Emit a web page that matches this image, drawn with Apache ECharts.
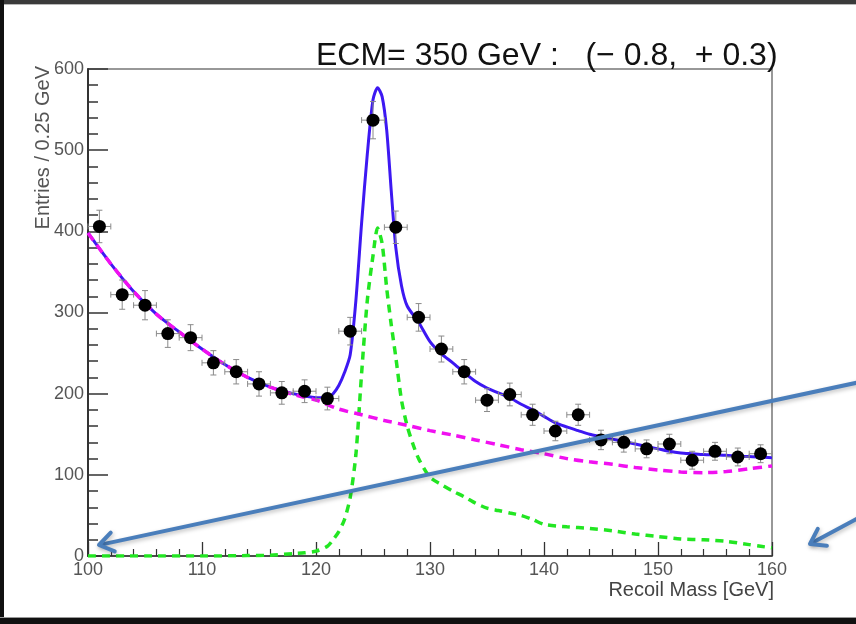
<!DOCTYPE html>
<html>
<head>
<meta charset="utf-8">
<script src="https://cdn.jsdelivr.net/npm/echarts@6/dist/echarts.min.js"></script>
<style>
html,body{margin:0;padding:0;background:#fff;}
#chart{width:856px;height:624px;}
</style>
</head>
<body>
<div id="chart"></div>
<script>
// ---- data ----
const titleText = 'ECM= 350 GeV :   (\u2212 0.8,  + 0.3)';
const xAxisTitle = 'Recoil Mass [GeV]';
const yAxisTitle = 'Entries / 0.25 GeV';

// measured histogram points
const binCenters = [101,103,105,107,109,111,113,115,117,119,121,123,125,127,129,131,133,135,137,139,141,143,145,147,149,151,153,155,157,159];
const entries    = [406,322,309,274,269,238,227,212,201,203,194,277,537,405,294,255,227,192,199,174,154,174,143,140,132,138,118,129,122,126];
const entryErrors= [20,18,18,17,16,15,15,15,14,14,14,17,23,20,17,16,15,14,14,13,12,13,12,12,11,12,11,11,11,11];
const binHalfWidth = 1;

// total fit (blue)
const fitMass  = [100,102,104,106,108,110,112,114,116,118,119,120,121,121.5,122,122.5,123,123.5,124,124.5,125,125.4,125.8,126.2,126.6,127,127.5,128,129,130,131,132,133,134,135,136,137,138,139,140,141,142,143,144,145,146,147,148,149,150,151,152,153,154,155,156,157,158,159,160];
const totalFit = [398,360,326,298,276,255,236,220,208,200,197,195,195,200,210,226,248,315,410,495,562,577,566,525,450,380,333,308,288,264,249,238,226,215,207,201,195,187,180,172,164,159,154.5,150,147,144,141,138,135,132,129,127,126,125,124.5,124,123,122.5,122,121];

// background component (magenta dashed)
const bkgMass = [100,102,104,106,108,110,112,114,116,118,120,122,124,126,128,130,132,134,136,138,140,142,144,146,148,150,152,154,156,158,160];
const bkgFit  = [398,360,326,298,276,255,236,220,208,199,192,181,174,167,161,154.5,149,143,137,131,126,120,116,113,109,106,103.5,102.7,104,107.5,111];

// signal component (green dashed)
const sigMass = [100,105,110,114,116,118,119,120,121,121.5,122,122.5,123,123.5,124,124.5,125,125.4,125.8,126.2,126.6,127,127.5,128,128.5,129,130,131,132,133,134,135,136,137,138,139,140,142,144,146,148,150,152,154,156,158,159,160];
const sigFit  = [0,0,0,0.5,1,3,4,6,12,20,30,45,72,125,225,315,370,404,385,330,285,245,192,160,138,120,97,88,80,73,65,59,56,53,50,45,39,36,34,31,27,24,21,20,18,14,12,10];

const xMin = 100, xMax = 160, xStep = 10;
const yMin = 0, yMax = 600, yStep = 100;

// ---- build ----
const zip = (a, b) => a.map((v, i) => [v, b[i]]);
const pointData = binCenters.map((x, i) => [x, entries[i], entryErrors[i]]);

const chart = echarts.init(document.getElementById('chart'), null, {renderer: 'canvas'});

const arrowColor = '#4a7ebb';
function arrow(tip, tail) {
  const dx = tail[0] - tip[0], dy = tail[1] - tip[1];
  const L = Math.hypot(dx, dy), ux = dx / L, uy = dy / L;
  const wing = 17, ang = 0.6;
  const w1 = [tip[0] + wing * (ux * Math.cos(ang) - uy * Math.sin(ang)), tip[1] + wing * (ux * Math.sin(ang) + uy * Math.cos(ang))];
  const w2 = [tip[0] + wing * (ux * Math.cos(-ang) - uy * Math.sin(-ang)), tip[1] + wing * (ux * Math.sin(-ang) + uy * Math.cos(-ang))];
  const style = {stroke: arrowColor, lineWidth: 4, lineCap: 'round', lineJoin: 'round', fill: null,
                 shadowBlur: 4, shadowColor: 'rgba(0,0,0,0.25)', shadowOffsetX: 1, shadowOffsetY: 2};
  return [
    {type: 'line', z: 100, shape: {x1: tail[0], y1: tail[1], x2: tip[0] + ux * 2, y2: tip[1] + uy * 2}, style: style},
    {type: 'polyline', z: 100, shape: {points: [w1, tip, w2]}, style: style}
  ];
}

const option = {
  animation: false,
  backgroundColor: '#ffffff',
  title: {
    text: titleText,
    left: 311, top: 35,
    textStyle: {fontFamily: 'Liberation Sans', fontSize: 32, fontWeight: 'normal', color: '#111'}
  },
  grid: {left: 88, right: 84, top: 69, bottom: 68, show: true, borderColor: '#777', borderWidth: 1.5, backgroundColor: 'transparent'},
  xAxis: {
    type: 'value', min: xMin, max: xMax, interval: xStep,
    name: xAxisTitle, nameLocation: 'end', nameGap: 2,
    nameTextStyle: {fontFamily: 'Liberation Sans', fontSize: 20, color: '#444', align: 'right', verticalAlign: 'top', padding: [24, 0, 0, 0]},
    axisLine: {show: true, onZero: false, lineStyle: {color: '#333', width: 1.5}},
    axisTick: {show: true, inside: true, length: 14, lineStyle: {color: '#333', width: 1.3}},
    minorTick: {show: true, splitNumber: 5, length: 7, lineStyle: {color: '#333', width: 1.2}},
    axisLabel: {margin: 5, fontFamily: 'Liberation Sans', fontSize: 18, color: '#555'},
    splitLine: {show: false}
  },
  yAxis: {
    type: 'value', min: yMin, max: yMax, interval: yStep,
    axisLine: {show: true, onZero: false, lineStyle: {color: '#333', width: 2}},
    axisTick: {show: true, inside: true, length: 20, lineStyle: {color: '#333', width: 1.5}},
    minorTick: {show: true, splitNumber: 5, length: 10, lineStyle: {color: '#333', width: 1.5}},
    axisLabel: {margin: 4, fontFamily: 'Liberation Sans', fontSize: 18, color: '#555'},
    splitLine: {show: false}
  },
  graphic: [
    {type: 'text', z: 50, x: 43, y: 66, rotation: Math.PI / 2,
     style: {text: yAxisTitle, fontFamily: 'Liberation Sans', fontSize: 20, fill: '#555', align: 'right', verticalAlign: 'middle'}},
    {type: 'rect', z: 90, shape: {x: 0, y: 0, width: 856, height: 4}, style: {fill: '#3a3a3a'}},
    {type: 'rect', z: 90, shape: {x: 0, y: 4, width: 856, height: 1}, style: {fill: '#b8b8b8'}},
    {type: 'rect', z: 90, shape: {x: 0, y: 0, width: 4, height: 624}, style: {fill: '#111'}},
    {type: 'rect', z: 90, shape: {x: 0, y: 617, width: 856, height: 1}, style: {fill: '#999'}},
    {type: 'rect', z: 90, shape: {x: 0, y: 618, width: 856, height: 6}, style: {fill: '#111'}}
  ].concat(arrow([99, 545], [860, 382])).concat(arrow([810, 544], [860, 517])),
  series: [
    {
      name: 'signal', type: 'line', data: zip(sigMass, sigFit), showSymbol: false, symbol: 'none',
      smooth: 0.25, z: 2,
      lineStyle: {color: '#22e622', width: 3.5, type: [8, 6]}
    },
    {
      name: 'total', type: 'line', data: zip(fitMass, totalFit), showSymbol: false, symbol: 'none',
      smooth: 0.25, z: 3,
      lineStyle: {color: '#3d18f2', width: 3}
    },
    {
      name: 'background', type: 'line', data: zip(bkgMass, bkgFit), showSymbol: false, symbol: 'none',
      smooth: 0.3, z: 4,
      lineStyle: {color: '#f010f0', width: 3.5, type: [9, 6]}
    },
    {
      name: 'errors', type: 'custom', z: 5, data: pointData,
      renderItem: function (params, api) {
        const x = api.value(0), y = api.value(1), e = api.value(2);
        const top = api.coord([x, y + e]), bot = api.coord([x, y - e]);
        const lft = api.coord([x - binHalfWidth, y]), rgt = api.coord([x + binHalfWidth, y]);
        const cap = 3;
        const st = {stroke: '#8a8a8a', lineWidth: 1};
        return {type: 'group', children: [
          {type: 'line', shape: {x1: top[0], y1: top[1], x2: bot[0], y2: bot[1]}, style: st},
          {type: 'line', shape: {x1: lft[0], y1: lft[1], x2: rgt[0], y2: rgt[1]}, style: st},
          {type: 'line', shape: {x1: top[0] - cap, y1: top[1], x2: top[0] + cap, y2: top[1]}, style: st},
          {type: 'line', shape: {x1: bot[0] - cap, y1: bot[1], x2: bot[0] + cap, y2: bot[1]}, style: st},
          {type: 'line', shape: {x1: lft[0], y1: lft[1] - cap, x2: lft[0], y2: lft[1] + cap}, style: st},
          {type: 'line', shape: {x1: rgt[0], y1: rgt[1] - cap, x2: rgt[0], y2: rgt[1] + cap}, style: st}
        ]};
      }
    },
    {
      name: 'data', type: 'scatter', z: 6, data: pointData.map(p => [p[0], p[1]]),
      symbol: 'circle', symbolSize: 13, itemStyle: {color: '#000', opacity: 1}
    }
  ]
};
chart.setOption(option);
</script>
</body>
</html>
